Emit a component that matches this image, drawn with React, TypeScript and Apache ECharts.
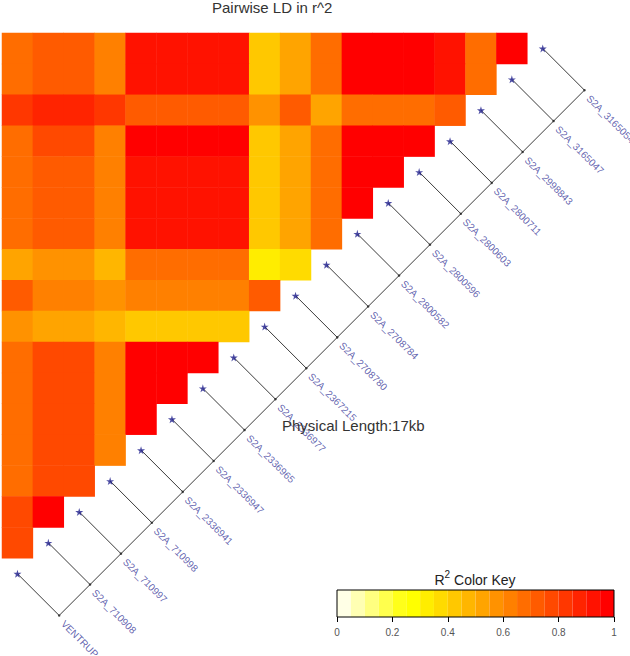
import React, { useEffect, useRef } from 'react';
import * as echarts from 'echarts';

const FONT = '"Liberation Sans", Arial, Helvetica, sans-serif';

// SNP markers, in map order (bottom-left to top-right along the diagonal)
const MARKERS = [
  'VENTRUP',
  'S2A_710908',
  'S2A_710997',
  'S2A_710998',
  'S2A_2336941',
  'S2A_2336947',
  'S2A_2336965',
  'S2A_2336977',
  'S2A_2367215',
  'S2A_2708780',
  'S2A_2708784',
  'S2A_2800582',
  'S2A_2800596',
  'S2A_2800603',
  'S2A_2800711',
  'S2A_2998843',
  'S2A_3165047',
  'S2A_3165054',
];

// Pairwise r^2. Row r (top = 0) holds marker (17 - r) against markers 0 .. 16 - r.
const R2_ROW_00 = [0.66, 0.73, 0.73, 0.62, 0.93, 0.93, 0.93, 0.93, 0.43, 0.53, 0.67, 0.97, 0.97, 0.97, 0.92, 0.68, 0.99];
const R2_ROW_01 = [0.66, 0.73, 0.73, 0.62, 0.93, 0.93, 0.93, 0.93, 0.43, 0.53, 0.67, 0.97, 0.97, 0.97, 0.92, 0.68];
const R2_ROW_02 = [0.82, 0.87, 0.87, 0.81, 0.72, 0.72, 0.72, 0.72, 0.58, 0.71, 0.5, 0.68, 0.68, 0.68, 0.73];
const R2_ROW_03 = [0.67, 0.76, 0.76, 0.64, 0.97, 0.97, 0.97, 0.97, 0.43, 0.53, 0.66, 0.96, 0.96, 0.96];
const R2_ROW_04 = [0.66, 0.74, 0.74, 0.62, 0.92, 0.92, 0.92, 0.92, 0.42, 0.52, 0.67, 0.97, 0.97];
const R2_ROW_05 = [0.66, 0.74, 0.74, 0.62, 0.92, 0.92, 0.92, 0.92, 0.42, 0.52, 0.67, 0.97];
const R2_ROW_06 = [0.66, 0.74, 0.74, 0.62, 0.92, 0.92, 0.92, 0.92, 0.42, 0.52, 0.67];
const R2_ROW_07 = [0.53, 0.58, 0.58, 0.48, 0.66, 0.66, 0.66, 0.66, 0.33, 0.38];
const R2_ROW_08 = [0.72, 0.62, 0.62, 0.59, 0.61, 0.61, 0.61, 0.61, 0.73];
const R2_ROW_09 = [0.57, 0.51, 0.51, 0.47, 0.43, 0.43, 0.43, 0.43];
const R2_ROW_10 = [0.67, 0.77, 0.77, 0.63, 0.97, 0.97, 0.97];
const R2_ROW_11 = [0.67, 0.77, 0.77, 0.63, 0.97, 0.97];
const R2_ROW_12 = [0.67, 0.77, 0.77, 0.63, 0.97];
const R2_ROW_13 = [0.67, 0.77, 0.77, 0.63];
const R2_ROW_14 = [0.67, 0.77, 0.77];
const R2_ROW_15 = [0.79, 0.95];
const R2_ROW_16 = [0.78];

const R2_ROWS = [
  R2_ROW_00, R2_ROW_01, R2_ROW_02, R2_ROW_03, R2_ROW_04, R2_ROW_05, R2_ROW_06, R2_ROW_07, R2_ROW_08,
  R2_ROW_09, R2_ROW_10, R2_ROW_11, R2_ROW_12, R2_ROW_13, R2_ROW_14, R2_ROW_15, R2_ROW_16,
];

// rev(heat.colors(20)): low r^2 (pale) -> high r^2 (red)
const HEAT_COLORS = [
  '#FFFFE6', '#FFFFB3', '#FFFF80', '#FFFF4D', '#FFFF1A',
  '#FFFF00', '#FFED00', '#FFDB00', '#FFC800', '#FFB600',
  '#FFA400', '#FF9200', '#FF8000', '#FF6D00', '#FF5B00',
  '#FF4900', '#FF3700', '#FF2400', '#FF1200', '#FF0000',
];

const TITLE = 'Pairwise LD in r^2';
const LENGTH_TEXT = 'Physical Length:17kb';

export default function App() {
  const ref = useRef<HTMLDivElement>(null);

  useEffect(() => {
    if (!ref.current) return;
    const chart = echarts.init(ref.current, undefined, { renderer: 'svg' });

    const n = MARKERS.length; // 18
    const cats = MARKERS.map((_, i) => String(i));
    const heatData: number[][] = [];
    R2_ROWS.forEach((row, r) => {
      row.forEach((v, c) => heatData.push([c, r, v]));
    });

    const nBins = HEAT_COLORS.length;
    const pieces = HEAT_COLORS.map((color, k) => {
      const p: any = { gte: k / nBins, color };
      if (k < nBins - 1) p.lt = (k + 1) / nBins;
      else p.lte = 1;
      return p;
    });

    const L = 1.35; // leader length, in cell units
    const LX = 0.12; // label anchor shift from leader end, in cell units
    const LY = 0.21;
    const starData = MARKERS.map((name, m) => ({ name, value: [m, n - 1 - m] }));
    const endData = MARKERS.map((name, m) => ({ name, value: [m + L, n - 1 - m + L] }));
    const labelData = MARKERS.map((name, m) => ({ name, value: [m + L + LX, n - 1 - m + L + LY] }));
    const lineData: any[] = MARKERS.map((_, m) => ({
      coords: [
        [m, n - 1 - m],
        [m + L, n - 1 - m + L],
      ],
    }));
    lineData.push({ coords: [[L, n - 1 + L], [n - 1 + L, L]] });

    const cell = 30.9;
    const option: any = {
      animation: false,
      title: {
        text: TITLE,
        left: 212,
        top: 0,
        padding: 0,
        textStyle: { fontSize: 15, fontWeight: 'normal', color: '#333', fontFamily: FONT },
      },
      grid: [
        { left: 2, top: 33, width: cell * n, height: cell * n, show: false },
        { left: 2, top: 33, width: cell * 20, height: cell * 20, show: false },
        {
          left: 337, top: 590, width: 277, height: 27, show: true,
          borderColor: '#000', borderWidth: 1, backgroundColor: 'transparent', z: 5,
        },
      ],
      xAxis: [
        { type: 'category', gridIndex: 0, data: cats, show: false },
        { type: 'value', gridIndex: 1, min: -0.5, max: 19.5, show: false },
        { type: 'category', gridIndex: 2, data: HEAT_COLORS.map((_, k) => String(k)), show: false, position: 'top' },
        {
          type: 'value', gridIndex: 2, min: 0, max: 1, interval: 0.2, position: 'bottom',
          axisLine: { show: false },
          axisTick: { show: true, length: 5, lineStyle: { color: '#000', width: 1 } },
          axisLabel: { fontSize: 10, color: '#555', fontFamily: FONT, margin: 10 },
          splitLine: { show: false },
        },
      ],
      yAxis: [
        { type: 'category', gridIndex: 0, data: cats, inverse: true, show: false },
        { type: 'value', gridIndex: 1, min: -0.5, max: 19.5, inverse: true, show: false },
        { type: 'value', gridIndex: 2, min: 0, max: 1, show: false },
      ],
      visualMap: {
        type: 'piecewise',
        show: false,
        seriesIndex: 0,
        pieces,
      },
      series: [
        {
          type: 'heatmap',
          xAxisIndex: 0,
          yAxisIndex: 0,
          data: heatData,
          itemStyle: { borderWidth: 0 },
          emphasis: { disabled: true },
        },
        {
          type: 'lines',
          coordinateSystem: 'cartesian2d',
          xAxisIndex: 1,
          yAxisIndex: 1,
          clip: false,
          symbol: 'none',
          lineStyle: { color: '#3a3a3a', width: 1, opacity: 1 },
          data: lineData,
          silent: true,
        },
        {
          type: 'scatter',
          xAxisIndex: 1,
          yAxisIndex: 1,
          data: starData,
          symbol: 'path://M50,0 L61,35 L98,35 L68,57 L79,91 L50,70 L21,91 L32,57 L2,35 L39,35 Z',
          symbolSize: 8,
          itemStyle: { color: '#1E1E8C' },
          silent: true,
          z: 4,
        },
        {
          type: 'scatter',
          xAxisIndex: 1,
          yAxisIndex: 1,
          data: endData,
          symbol: 'circle',
          symbolSize: 2.5,
          itemStyle: { color: '#222' },
          silent: true,
          z: 4,
        },
        {
          type: 'scatter',
          xAxisIndex: 1,
          yAxisIndex: 1,
          data: labelData,
          symbol: 'circle',
          symbolSize: 0.1,
          itemStyle: { color: 'rgba(0,0,0,0)' },
          silent: true,
          label: {
            show: true,
            formatter: '{b}',
            position: 'inside',
            align: 'left',
            verticalAlign: 'middle',
            rotate: -45,
            fontSize: 10,
            color: '#3B3B9B',
            fontFamily: FONT,
          },
          labelLayout: { hideOverlap: false },
          z: 4,
        },
        {
          type: 'bar',
          xAxisIndex: 2,
          yAxisIndex: 2,
          barWidth: '100%',
          barCategoryGap: '0%',
          silent: true,
          data: HEAT_COLORS.map((color) => ({ value: 1, itemStyle: { color } })),
        },
      ],
      graphic: [
        {
          type: 'text',
          x: 282,
          y: 425,
          z: 100,
          style: {
            text: LENGTH_TEXT,
            font: `15px ${FONT}`,
            fill: '#333',
            verticalAlign: 'middle',
          },
        },
        {
          type: 'text',
          x: 475,
          y: 587,
          z: 100,
          style: {
            text: '{r|R}{s|2}{r| Color Key}',
            align: 'center',
            verticalAlign: 'bottom',
            fill: '#222',
            rich: {
              r: { fontSize: 14, fontFamily: FONT, fill: '#222', lineHeight: 14, verticalAlign: 'bottom' },
              s: { fontSize: 10, fontFamily: FONT, fill: '#222', lineHeight: 10, verticalAlign: 'bottom', padding: [0, 0, 8, 0] },
            },
          },
        },
      ],
    };

    chart.setOption(option);
    return () => chart.dispose();
  }, []);

  return (
    <div
      ref={ref}
      style={{ position: 'absolute', left: 0, top: 0, width: 630, height: 656, background: '#fff' }}
    />
  );
}
